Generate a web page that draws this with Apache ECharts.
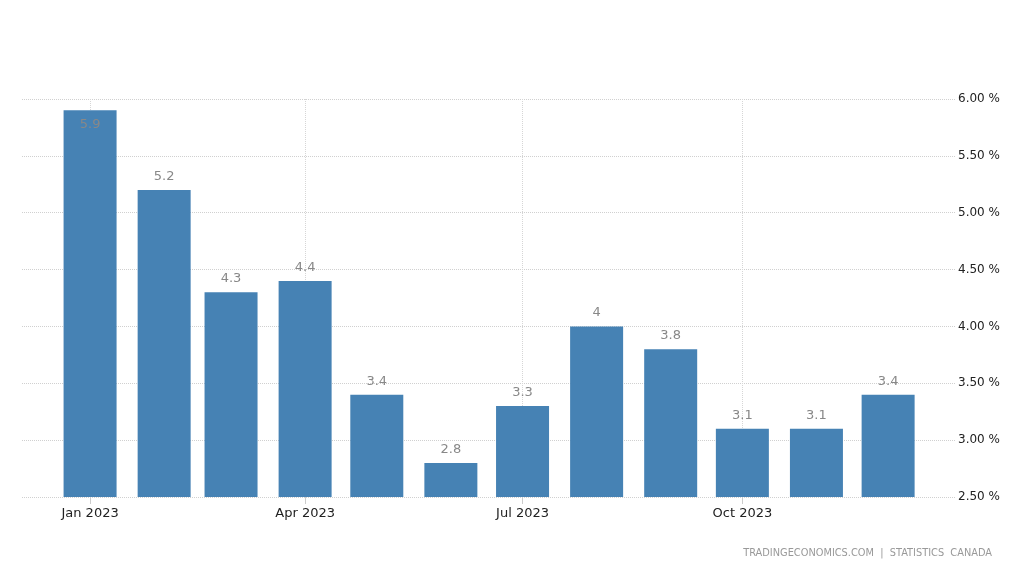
<!DOCTYPE html>
<html>
<head>
<meta charset="utf-8">
<script src="https://cdn.jsdelivr.net/npm/echarts@6/dist/echarts.min.js"></script>
<style>
  html, body { margin: 0; padding: 0; background: #fff; }
  #main { width: 1035px; height: 569px; }
</style>
</head>
<body>
<div id="main"></div>
<script>
// monthly inflation rate, Canada 2023
var months = ['2023-01-01','2023-02-01','2023-03-01','2023-04-01','2023-05-01','2023-06-01',
              '2023-07-01','2023-08-01','2023-09-01','2023-10-01','2023-11-01','2023-12-01'];
var rates = [5.9, 5.2, 4.3, 4.4, 3.4, 2.8, 3.3, 4, 3.8, 3.1, 3.1, 3.4];
var labelMonths = ['2023-01-01','2023-04-01','2023-07-01','2023-10-01'];
var yTicks = [2.5, 3, 3.5, 4, 4.5, 5, 5.5, 6];

var myChart = echarts.init(document.getElementById('main'));

var DAY = 86400000;
var labelStamps = labelMonths.map(function (d) { return +echarts.time.parse(d); });
var firstStamp = +echarts.time.parse(months[0]);
var lastStamp = +echarts.time.parse(months[months.length - 1]);

var seriesData = months.map(function (m, i) {
    var item = { value: [m, rates[i]] };
    // top bar has no room above, label goes inside
    if (rates[i] >= yTicks[yTicks.length - 1] - 0.15) {
        item.label = { position: 'insideTop', distance: 8 };
    }
    return item;
});

var option = {
    animation: false,
    textStyle: { fontFamily: 'DejaVu Sans' },
    title: {
        text: 'TRADINGECONOMICS.COM  |  STATISTICS  CANADA',
        right: 38,
        bottom: 6,
        textStyle: { color: '#999', fontSize: 9.8, fontWeight: 'normal' }
    },
    grid: {
        left: 22,
        right: 80,
        top: 99,
        bottom: 72
    },
    xAxis: {
        type: 'time',
        // echarts pads the extent by half a bar on each side, so pull min/max in
        min: firstStamp - 17.4 * DAY,
        max: lastStamp + 16.9 * DAY,
        axisLine: { show: false },
        axisTick: {
            show: true,
            customValues: labelStamps,
            length: 7,
            lineStyle: { color: '#ccc' }
        },
        axisLabel: {
            customValues: labelStamps,
            color: '#222',
            fontSize: 13,
            margin: 10,
            formatter: '{MMM} {yyyy}'
        },
        splitLine: {
            show: true,
            lineStyle: { color: '#d6d6d6', type: 'dotted' }
        }
    },
    yAxis: {
        type: 'value',
        position: 'right',
        min: yTicks[0],
        max: yTicks[yTicks.length - 1],
        interval: 0.5,
        axisLine: { show: false },
        axisTick: { show: false },
        axisLabel: {
            color: '#222',
            fontSize: 12,
            margin: 3,
            formatter: function (v) { return v.toFixed(2) + ' %'; }
        },
        splitLine: {
            lineStyle: { color: '#d0d0d0', type: 'dotted' }
        }
    },
    series: [
        {
            type: 'bar',
            barWidth: 53,
            data: seriesData,
            itemStyle: { color: '#4682b4' },
            label: {
                show: true,
                position: 'top',
                distance: 7,
                color: '#888',
                fontSize: 13,
                formatter: function (p) { return p.value[1]; }
            }
        }
    ]
};

myChart.setOption(option);
</script>
</body>
</html>
